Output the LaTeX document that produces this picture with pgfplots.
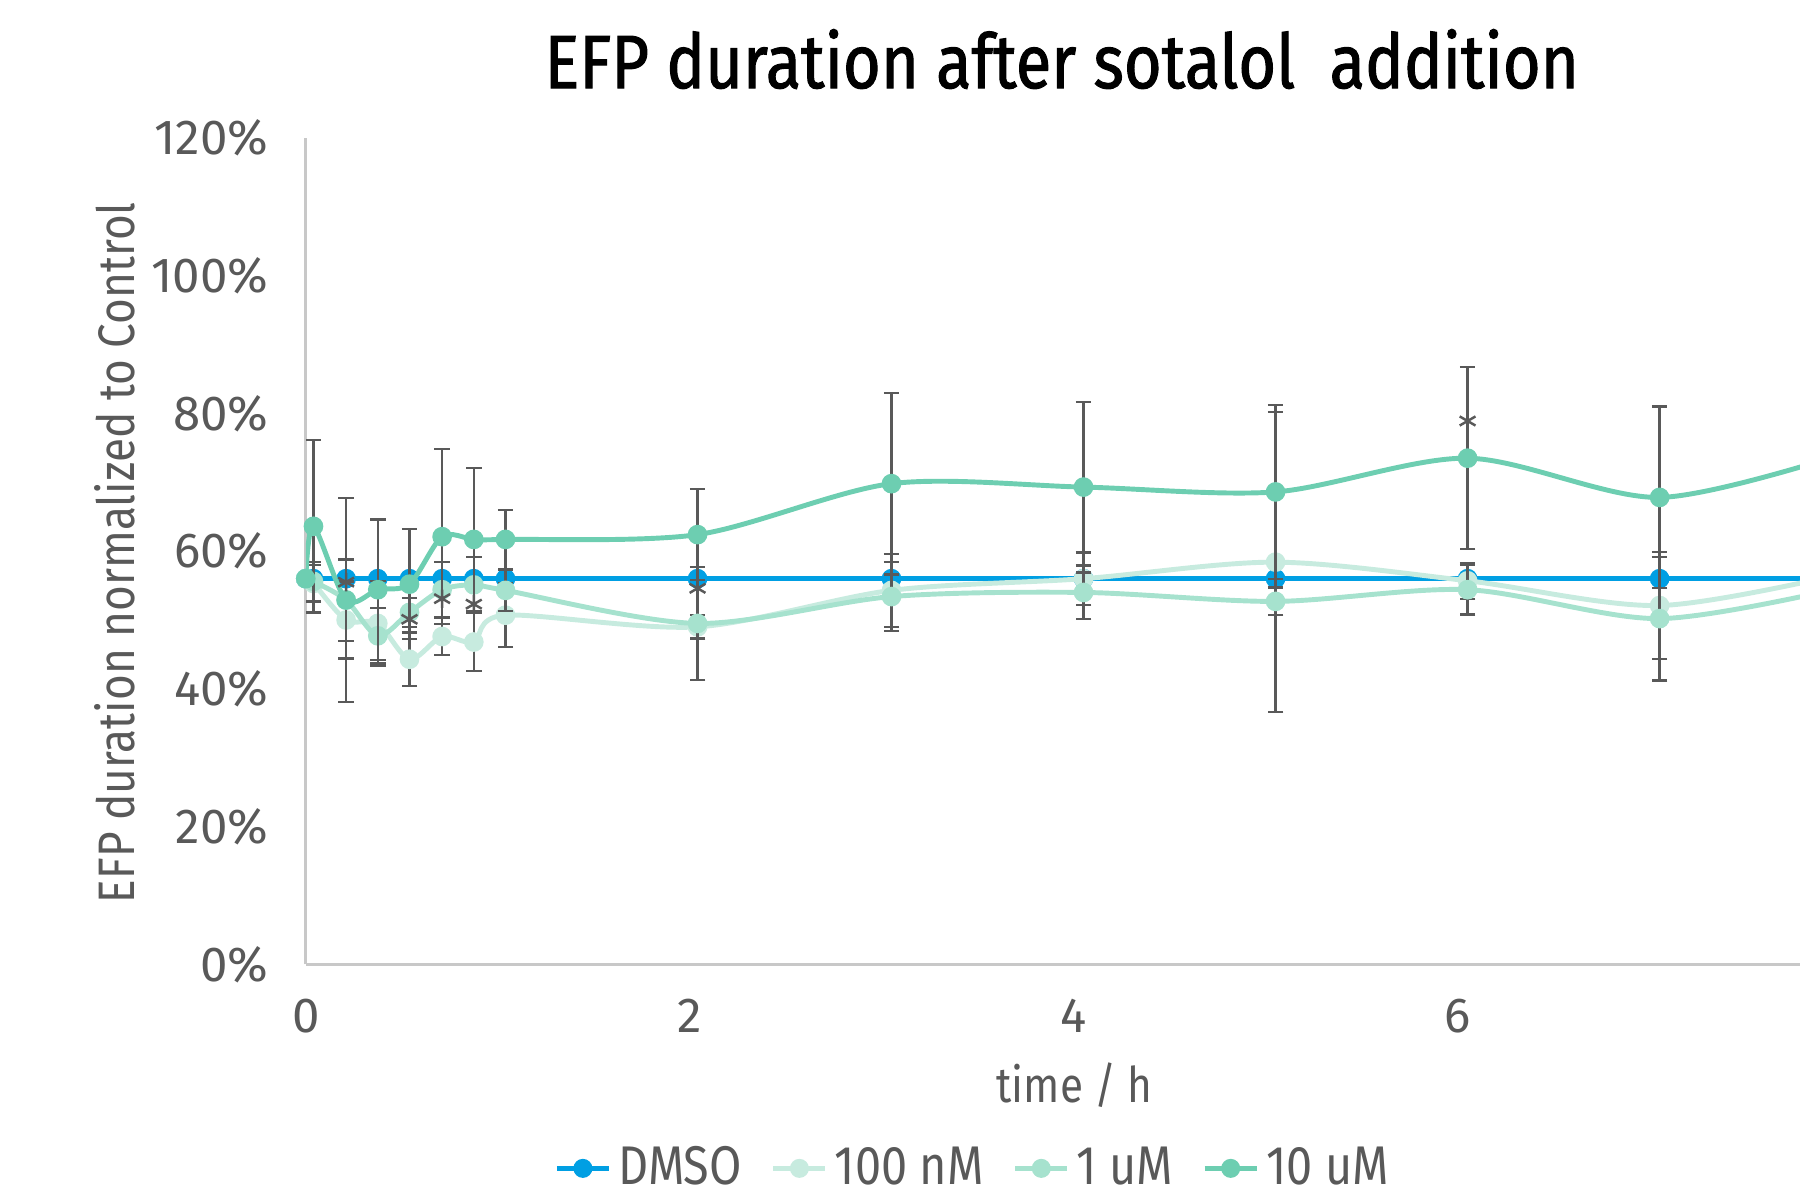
\documentclass[border=0pt]{standalone}
\usepackage{fontspec}
\setmainfont{Fira Sans}
\newfontfamily\condfont[FakeStretch=0.86]{Fira Sans}
\newfontfamily\titlefont[FakeStretch=0.86, FakeBold=1.3]{Fira Sans}
\usepackage{pgfplots}
\pgfplotsset{compat=1.18}

\definecolor{dmso}{HTML}{009FE3}
\definecolor{nM100}{HTML}{C7EBDF}
\definecolor{uM1}{HTML}{A6E2CE}
\definecolor{uM10}{HTML}{6DCEB1}
\definecolor{errgray}{HTML}{595959}
\definecolor{axisgray}{HTML}{C8C8C8}
\definecolor{txtgray}{HTML}{595959}

\pgfplotsset{
  errstyle/.style={
    error bars/.cd, y dir=both, y explicit,
    error mark=-,
    error bar style={draw=errgray, line width=0.65pt},
    error mark options={rotate=90, draw=errgray, mark size=2.2pt, line width=0.65pt},
  },
}

\begin{document}
\begin{tikzpicture}
\begin{axis}[
    at={(0,0)}, anchor=south west,
    scale only axis,
    width=14.94cm, height=8.263cm,
    xmin=0, xmax=7.78,
    ymin=0, ymax=120,
    xtick={0,2,4,6},
    ytick={0,20,...,120},
    yticklabel={\pgfmathprintnumber{\tick}\%},
    /pgf/number format/assume math mode=true,
    axis x line=bottom, axis y line=left,
    axis line style={-, draw=axisgray, line width=0.9pt},
    major tick length=0pt,
    tick label style={font=\fontsize{14}{16}\selectfont, text=txtgray},
    yticklabel style={xshift=-0.25cm},
    xticklabel style={yshift=-0.22cm},
    title={EFP duration after sotalol~ addition},
    title style={at={(axis description cs:0.506,1.070)}, anchor=center,
      font=\titlefont\fontsize{21.5}{25}\selectfont, text=black},
    xlabel={time / h},
    xlabel style={at={(axis description cs:0.5145,-0.146)}, anchor=center,
      font=\condfont\fontsize{14}{16}\selectfont, text=txtgray},
    ylabel={EFP duration normalized to Control},
    ylabel style={at={(axis description cs:-0.1277,0.498)}, anchor=center,
      font=\condfont\fontsize{14.6}{17}\selectfont, text=txtgray},
    legend style={at={(axis description cs:0.448,-0.247)}, anchor=center,
      draw=none, fill=none, legend columns=-1, inner sep=1pt,
      font=\condfont\fontsize{15.5}{18}\selectfont, text=txtgray,
      /tikz/every even column/.append style={column sep=0.22cm}},
    legend image code/.code={
      \draw[#1, mark repeat=2, mark phase=2] plot coordinates {(0cm,0cm) (0.26cm,0cm) (0.52cm,0cm)};
    },
    clip mode=individual,
]

% DMSO
\addplot[dmso, line width=1.4pt, forget plot] coordinates {
  (0,56) (0.04,56) (0.21,56) (0.375,56) (0.54,56) (0.71,56) (0.875,56) (1.04,56)
  (2.04,56) (3.05,56) (4.05,56) (5.05,56) (6.05,56) (7.05,56) (8.05,56)
};
\addplot[only marks, mark=*, mark size=2.6pt, dmso, forget plot] coordinates {
  (0,56) (0.04,56) (0.21,56) (0.375,56) (0.54,56) (0.71,56) (0.875,56) (1.04,56)
  (2.04,56) (3.05,56) (4.05,56) (5.05,56) (6.05,56) (7.05,56)
};

% 100 nM
\addplot[nM100, line width=1.4pt, smooth, tension=0.5, forget plot] coordinates {
  (0,56) (0.04,55.3) (0.21,50.0) (0.375,49.5) (0.54,44.3) (0.71,47.6) (0.875,46.8)
  (1.04,50.7) (2.04,49.0) (3.05,54.3) (4.05,56.0) (5.05,58.4) (6.05,55.7)
  (7.05,52.1) (8.05,57)
};
\addplot[only marks, mark=*, mark size=2.6pt, nM100, forget plot, errstyle] coordinates {
  (0,56) +- (0,0)
  (0.04,55.3) +- (0,2.7)
  (0.21,50.0) +- (0,5.6)
  (0.375,49.5) +- (0,6.2)
  (0.54,44.3) +- (0,3.9)
  (0.71,47.6) +- (0,2.7)
  (0.875,46.8) +- (0,4.2)
  (1.04,50.7) +- (0,4.6)
  (2.04,49.0) +- (0,1.7)
  (3.05,54.3) +- (0,5.3)
  (4.05,56.0) +- (0,3.8)
  (5.05,58.4) +- (0,21.8)
  (6.05,55.7) +- (0,2.6)
  (7.05,52.1) +- (0,7.8)
};

% 1 uM
\addplot[uM1, line width=1.4pt, smooth, tension=0.5, forget plot] coordinates {
  (0,56) (0.04,55.6) (0.21,52.9) (0.375,47.7) (0.54,51.1) (0.71,54.4) (0.875,55.1)
  (1.04,54.3) (2.04,49.5) (3.05,53.4) (4.05,54.0) (5.05,52.7) (6.05,54.4)
  (7.05,50.2) (8.05,55)
};
\addplot[only marks, mark=*, mark size=2.6pt, uM1, forget plot, errstyle] coordinates {
  (0,56) +- (0,0)
  (0.04,55.6) +- (0,2.8)
  (0.21,52.9) +- (0,5.9)
  (0.375,47.7) +- (0,4.0)
  (0.54,51.1) +- (0,2.1)
  (0.71,54.4) +- (0,4.0)
  (0.875,55.1) +- (0,4.0)
  (1.04,54.3) +- (0,3.0)
  (2.04,49.5) +- (0,8.2)
  (3.05,53.4) +- (0,5.0)
  (4.05,54.0) +- (0,3.9)
  (5.05,52.7) +- (0,2.0)
  (6.05,54.4) +- (0,3.6)
  (7.05,50.2) +- (0,9.0)
};

% 10 uM
\addplot[uM10, line width=1.4pt, smooth, tension=0.5, forget plot] coordinates {
  (0,56) (0.04,63.6) (0.21,52.9) (0.375,54.4) (0.54,55.2) (0.71,62.1) (0.875,61.7)
  (1.04,61.7) (2.04,62.4) (3.05,69.8) (4.05,69.3) (5.05,68.6) (6.05,73.5)
  (7.05,67.8) (8.05,74.5)
};
\addplot[only marks, mark=*, mark size=2.6pt, uM10, forget plot, errstyle] coordinates {
  (0,56) +- (0,0)
  (0.04,63.6) +- (0,12.5)
  (0.21,52.9) +- (0,14.8)
  (0.375,54.4) +- (0,10.2)
  (0.54,55.2) +- (0,8.0)
  (0.71,62.1) +- (0,12.7)
  (0.875,61.7) +- (0,10.4)
  (1.04,61.7) +- (0,4.3)
  (2.04,62.4) +- (0,6.6)
  (3.05,69.8) +- (0,13.2)
  (4.05,69.3) +- (0,12.4)
  (5.05,68.6) +- (0,12.6)
  (6.05,73.5) +- (0,13.2)
  (7.05,67.8) +- (0,13.2)
};

% significance asterisks
\addplot[only marks, mark=asterisk, mark size=2.6pt, errgray, line width=0.7pt, forget plot] coordinates {
  (0.21,55.5) (0.54,50.1) (0.71,53.1) (0.875,52.3) (2.04,54.6) (6.05,78.9)
};

\addlegendimage{dmso, line width=1.4pt, mark=*, mark size=2pt}
\addlegendentry{DMSO}
\addlegendimage{nM100, line width=1.4pt, mark=*, mark size=2pt}
\addlegendentry{100 nM}
\addlegendimage{uM1, line width=1.4pt, mark=*, mark size=2pt}
\addlegendentry{1 uM}
\addlegendimage{uM10, line width=1.4pt, mark=*, mark size=2pt}
\addlegendentry{10 uM}
\end{axis}
\pgfresetboundingbox
\useasboundingbox (-3.058cm,-2.317cm) rectangle (14.942cm,9.643cm);
\end{tikzpicture}
\end{document}
